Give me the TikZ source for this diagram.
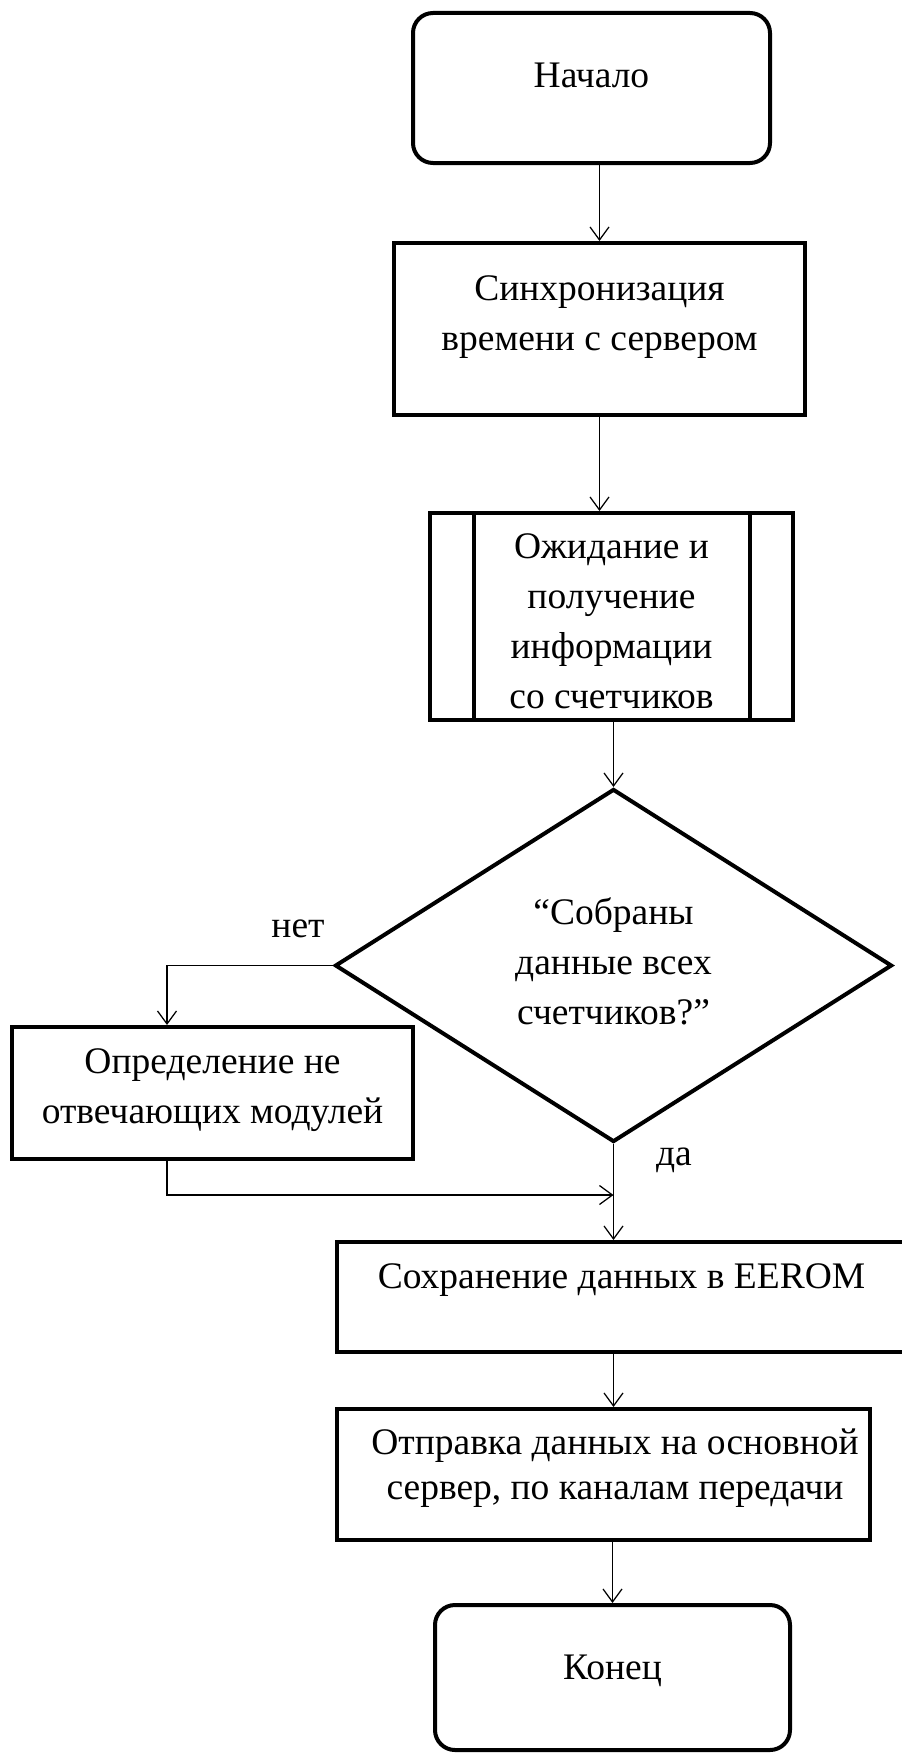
\documentclass[tikz,border=0pt]{standalone}
\usepackage{fontspec}
\setmainfont{Liberation Serif}
\usetikzlibrary{shapes.geometric,arrows.meta}

\begin{document}
\begin{tikzpicture}[x=0.4pt,y=-0.4pt,
  every node/.style={font=\fontsize{15}{20}\selectfont},
  box/.style={draw,line width=1.6pt,align=center,inner sep=1pt},
  term/.style={box,rounded corners=8pt},
  ifbox/.style={draw,diamond,aspect=1.58,line width=1.6pt,align=center,inner sep=0pt},
  flow/.style={line width=0.5pt,-{Straight Barb[length=5.2pt,width=7.6pt]}}]

 \useasboundingbox (0,0) rectangle (901,1753);

 \path (591.5,88) node[term,minimum width=142.8pt,minimum height=60pt](start){Начало\\[-9.6pt]};
 \path (599.5,329) node[box,minimum width=164.4pt,minimum height=68.8pt](sync){Синхронизация\\времени с сервером\\[-7.5pt]};
 \path (611.5,616.5) node[box,minimum width=145.2pt,minimum height=82.8pt](wait){Ожидание и\\получение\\информации\\со счетчиков\\[-23.6pt]};
 \draw[line width=1.6pt] ([xshift=18.4pt]wait.north west) -- ([xshift=18.4pt]wait.south west);
 \draw[line width=1.6pt] ([xshift=-18pt]wait.north east) -- ([xshift=-18pt]wait.south east);
 \path (613.5,965.5) node[ifbox,minimum width=222.8pt,minimum height=141.2pt](cond){“Собраны\\данные всех\\счетчиков?”\\[-16.8pt]};
 \path (212.5,1093) node[box,minimum width=160.4pt,minimum height=52.8pt](fix){Определение не\\отвечающих модулей\\[-14.3pt]};
 \path (621.5,1297) node[box,minimum width=227.6pt,minimum height=44pt](save){Сохранение данных в EEROM\\[-3.1pt]};
 \path (603.5,1474.5) node[box,minimum width=213.2pt,minimum height=52.4pt,font=\fontsize{15}{18}\selectfont](send){\hspace*{9.2pt}Отправка данных на основной\\\hspace*{9.2pt}сервер, по каналам передачи\\[-10.1pt]};
 \path (612.5,1677.5) node[term,minimum width=142pt,minimum height=58pt](end){Конец\\[-11.4pt]};

 \path (298,937) node[anchor=base](no){нет};
 \path (674,1165) node[anchor=base](yes){да};
 \path (cond.south) ++(0,51) coordinate (join);

 \draw[flow] (start.south -| sync.north) -- (sync.north);
 \draw[flow] (sync.south) -- (sync.south |- wait.north);
 \draw[flow] (wait.south -| cond.north) -- (cond.north);
 \draw[flow] (cond.west) -| ([xshift=-18.2pt]fix.north);
 \draw[flow] ([xshift=-18.2pt]fix.south) |- (join);
 \draw[flow] (cond.south) -- (cond.south |- save.north);
 \draw[flow] (save.south -| cond.south) -- (send.north -| cond.south);
 \draw[flow] (send.south -| end.north) -- (end.north);
\end{tikzpicture}
\end{document}
